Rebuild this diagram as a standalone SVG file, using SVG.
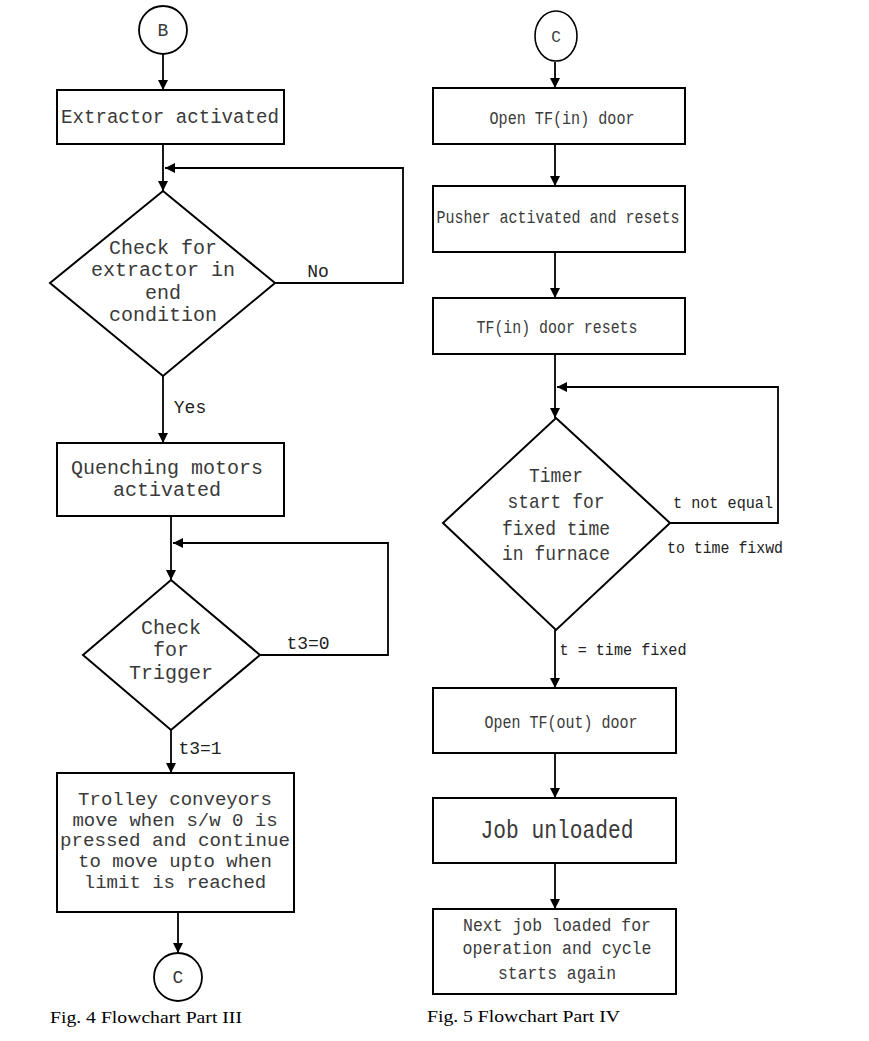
<svg xmlns="http://www.w3.org/2000/svg" width="869" height="1041" viewBox="0 0 869 1041">
<style>
.box{fill:#fff;stroke:#000;stroke-width:2}
.ln{fill:none;stroke:#000;stroke-width:1.8}
.t{font-family:"Liberation Mono",monospace;fill:#3a3a3a;text-anchor:middle}
.l{font-size:20px}
.r{font-size:18px}
.lbl{font-family:"Liberation Mono",monospace;fill:#222}
.cap{font-family:"Liberation Serif",serif;font-size:17px;fill:#000}
</style>
<defs>
<marker id="ah" markerUnits="userSpaceOnUse" markerWidth="10" markerHeight="12" refX="10" refY="5" orient="auto">
<path d="M0,0 L10,5 L0,10 Z" fill="#000"/>
</marker>
</defs>
<g id="connectors">
<line class="ln" x1="163" y1="55" x2="163" y2="90" marker-end="url(#ah)"/>
<line class="ln" x1="163" y1="144" x2="163" y2="191" marker-end="url(#ah)"/>
<polyline class="ln" points="275,283 403,283 403,168 165,168" marker-end="url(#ah)"/>
<line class="ln" x1="163" y1="376" x2="163" y2="443" marker-end="url(#ah)"/>
<line class="ln" x1="171" y1="516" x2="171" y2="580" marker-end="url(#ah)"/>
<polyline class="ln" points="260,655 388,655 388,543 173,543" marker-end="url(#ah)"/>
<line class="ln" x1="171" y1="730" x2="171" y2="773" marker-end="url(#ah)"/>
<line class="ln" x1="178" y1="912" x2="178" y2="953" marker-end="url(#ah)"/>
<line class="ln" x1="555" y1="62" x2="555" y2="88" marker-end="url(#ah)"/>
<line class="ln" x1="555" y1="144" x2="555" y2="186" marker-end="url(#ah)"/>
<line class="ln" x1="555" y1="252" x2="555" y2="298" marker-end="url(#ah)"/>
<line class="ln" x1="555" y1="354" x2="555" y2="418" marker-end="url(#ah)"/>
<polyline class="ln" points="670,523 778,523 778,387 557,387" marker-end="url(#ah)"/>
<line class="ln" x1="555" y1="630" x2="555" y2="688" marker-end="url(#ah)"/>
<line class="ln" x1="555" y1="753" x2="555" y2="798" marker-end="url(#ah)"/>
<line class="ln" x1="555" y1="863" x2="555" y2="909" marker-end="url(#ah)"/>
<text class="lbl" x="318" y="277" font-size="18" text-anchor="middle">No</text>
<text class="lbl" x="190" y="413" font-size="18" text-anchor="middle">Yes</text>
<text class="lbl" x="308" y="649" font-size="18" text-anchor="middle">t3=0</text>
<text class="lbl" x="200" y="754" font-size="18" text-anchor="middle">t3=1</text>
<text class="lbl" x="723" y="508" font-size="16" text-anchor="middle" textLength="100" lengthAdjust="spacingAndGlyphs">t not equal</text>
<text class="lbl" x="725" y="553" font-size="16" text-anchor="middle" textLength="116" lengthAdjust="spacingAndGlyphs">to time fixwd</text>
<text class="lbl" x="623" y="655" font-size="16" text-anchor="middle" textLength="127" lengthAdjust="spacingAndGlyphs">t = time fixed</text>
</g>
<g id="nodeB">
<circle cx="163" cy="30" r="24" fill="#fff" stroke="#000" stroke-width="1.8"/>
<text class="t" x="163" y="36" font-size="18">B</text>
</g>
<g id="extractor">
<rect class="box" x="57" y="90" width="227" height="54"/>
<text class="t l" x="170" y="123" textLength="218" lengthAdjust="spacingAndGlyphs">Extractor activated</text>
</g>
<g id="checkExtractor">
<polygon class="box" points="163,191 275,283 163,376 50,283"/>
<text class="t l" x="163" y="254">Check for</text>
<text class="t l" x="163" y="276">extractor in</text>
<text class="t l" x="163" y="299">end</text>
<text class="t l" x="163" y="321">condition</text>
</g>
<g id="quenching">
<rect class="box" x="57" y="443" width="227" height="73"/>
<text class="t l" x="167" y="474">Quenching motors</text>
<text class="t l" x="167" y="496">activated</text>
</g>
<g id="checkTrigger">
<polygon class="box" points="171,580 260,655 171,730 83,655"/>
<text class="t l" x="171" y="634">Check</text>
<text class="t l" x="171" y="656">for</text>
<text class="t l" x="171" y="679">Trigger</text>
</g>
<g id="trolley">
<rect class="box" x="57" y="773" width="237" height="139"/>
<text class="t" font-size="19" x="175" y="805">Trolley conveyors</text>
<text class="t" font-size="19" x="175" y="826">move when s/w 0 is</text>
<text class="t" font-size="19" x="175" y="846" textLength="230" lengthAdjust="spacingAndGlyphs">pressed and continue</text>
<text class="t" font-size="19" x="175" y="867">to move upto when</text>
<text class="t" font-size="19" x="175" y="888">limit is reached</text>
</g>
<g id="nodeC1">
<circle cx="178" cy="977" r="24" fill="#fff" stroke="#000" stroke-width="1.8"/>
<text class="t" x="178" y="983" font-size="18">C</text>
</g>
<text class="cap" x="50" y="1023" textLength="192" lengthAdjust="spacingAndGlyphs">Fig. 4 Flowchart Part III</text>
<g id="nodeC2">
<ellipse cx="556" cy="36" rx="21" ry="25" fill="#fff" stroke="#000" stroke-width="1.6"/>
<text class="t" x="556" y="42" font-size="16">C</text>
</g>
<g id="openIn">
<rect class="box" x="433" y="88" width="252" height="56"/>
<text class="t r" x="562" y="124" textLength="145" lengthAdjust="spacingAndGlyphs">Open TF(in) door</text>
</g>
<g id="pusher">
<rect class="box" x="433" y="186" width="252" height="66"/>
<text class="t r" x="558" y="223" textLength="243" lengthAdjust="spacingAndGlyphs">Pusher activated and resets</text>
</g>
<g id="inReset">
<rect class="box" x="433" y="298" width="252" height="56"/>
<text class="t r" x="557" y="333" textLength="161" lengthAdjust="spacingAndGlyphs">TF(in) door resets</text>
</g>
<g id="timer">
<polygon class="box" points="556,418 670,523 556,630 443,523"/>
<text class="t" font-size="21" x="556" y="482" textLength="54" lengthAdjust="spacingAndGlyphs">Timer</text>
<text class="t" font-size="21" x="556" y="508" textLength="97" lengthAdjust="spacingAndGlyphs">start for</text>
<text class="t" font-size="21" x="556" y="535" textLength="108" lengthAdjust="spacingAndGlyphs">fixed time</text>
<text class="t" font-size="21" x="556" y="560" textLength="108" lengthAdjust="spacingAndGlyphs">in furnace</text>
</g>
<g id="openOut">
<rect class="box" x="433" y="688" width="243" height="65"/>
<text class="t r" x="561" y="728" textLength="153" lengthAdjust="spacingAndGlyphs">Open TF(out) door</text>
</g>
<g id="unloaded">
<rect class="box" x="433" y="798" width="243" height="65"/>
<text class="t" font-size="25" x="557" y="838" textLength="153" lengthAdjust="spacingAndGlyphs">Job unloaded</text>
</g>
<g id="nextJob">
<rect class="box" x="433" y="909" width="243" height="85"/>
<text class="t r" x="557" y="931" textLength="188" lengthAdjust="spacingAndGlyphs">Next job loaded for</text>
<text class="t r" x="557" y="954" textLength="189" lengthAdjust="spacingAndGlyphs">operation and cycle</text>
<text class="t r" x="557" y="979" textLength="118" lengthAdjust="spacingAndGlyphs">starts again</text>
</g>
<text class="cap" x="427" y="1022" textLength="193" lengthAdjust="spacingAndGlyphs">Fig. 5 Flowchart Part IV</text>
</svg>
